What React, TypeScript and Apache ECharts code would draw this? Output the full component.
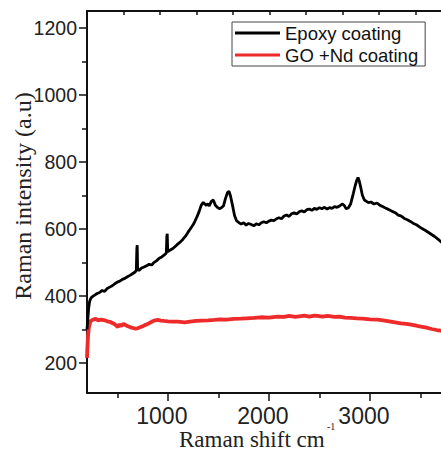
import React, { useEffect, useRef } from "react";
import * as echarts from "echarts";

const epoxyShift = [
  200, 208, 216, 226, 240, 260, 280, 300, 325, 350, 375, 400, 425, 450, 475, 500,
  525, 550, 575, 600, 625, 650, 675, 688, 693, 697, 701, 715, 740, 765, 790, 815,
  840, 865, 890, 915, 940, 965, 985, 990, 994, 999, 1020, 1050, 1075, 1100, 1125,
  1150, 1175, 1200, 1225, 1250, 1270, 1290, 1310, 1330, 1350, 1365, 1380, 1395,
  1410, 1430, 1450, 1470, 1490, 1510, 1530, 1550, 1570, 1590, 1605, 1620, 1640,
  1660, 1680, 1700, 1725, 1750, 1775, 1800, 1825, 1850, 1875, 1900, 1925, 1950,
  1975, 2000, 2025, 2050, 2075, 2100, 2125, 2150, 2175, 2200, 2225, 2250, 2275,
  2300, 2325, 2350, 2375, 2400, 2425, 2450, 2475, 2500, 2525, 2550, 2575, 2600,
  2625, 2650, 2675, 2700, 2725, 2745, 2765, 2785, 2810, 2835, 2855, 2870, 2882,
  2895, 2910, 2925, 2945, 2965, 2985, 3010, 3040, 3070, 3100, 3130, 3160, 3190,
  3220, 3250, 3280, 3310, 3340, 3370, 3400, 3430, 3460, 3490, 3520, 3550, 3580,
  3610, 3640, 3670, 3700, 3730, 3760, 3790, 3820, 3850, 3880, 3900,
];
const epoxyIntensity = [
  300, 330, 362, 384, 394, 399, 403, 407, 410, 416, 413, 422, 426, 430, 436, 441,
  444, 449, 452, 457, 461, 466, 471, 476, 540, 551, 478, 476, 483, 486, 490, 494,
  492, 500, 505, 512, 516, 522, 528, 578, 585, 532, 536, 541, 548, 555, 561,
  569, 578, 590, 601, 612, 624, 637, 652, 670, 679, 674, 670, 675,
  668, 682, 686, 670, 664, 660, 663, 668, 690, 708, 712, 698, 670,
  640, 624, 619, 614, 618, 611, 616, 613, 609, 615, 612, 618, 621,
  618, 623, 626, 624, 630, 633, 630, 638, 641, 637, 645, 648, 644,
  651, 654, 650, 657, 659, 655, 661, 658, 663, 660, 664, 659, 663,
  661, 666, 664, 668, 674, 670, 660, 662, 675, 705, 730, 745, 753,
  742, 722, 700, 686, 682, 678, 680, 674, 677, 670, 666, 661, 657,
  652, 648, 641, 638, 631, 627, 622, 616, 612, 606, 600, 595, 589,
  583, 577, 570, 562, 556, 549, 543, 537, 530, 524, 520,
];

const goShift = [
  200, 204, 210, 218, 228, 240, 260, 285, 310, 340, 376, 400, 430, 455, 475, 490,
  505, 520, 540, 560, 580, 605, 630, 655, 680, 700, 725, 750, 775, 800, 825, 850,
  875, 900, 930, 960, 1000, 1050, 1100, 1168, 1220, 1280, 1334, 1400, 1460, 1520,
  1580, 1653, 1720, 1780, 1850, 1920, 2000, 2086, 2150, 2200, 2260, 2300, 2350,
  2400, 2450, 2482, 2530, 2580, 2650, 2700, 2750, 2812, 2870, 2930, 3000, 3076,
  3130, 3190, 3250, 3307, 3360, 3420, 3470, 3505, 3560, 3610, 3660, 3703, 3760,
  3820, 3900,
];
const goIntensity = [
  215, 245, 280, 305, 318, 326, 329, 331, 327, 329, 327, 324, 322, 318, 315, 311,
  307, 314, 310, 316, 313, 309, 306, 304, 302, 303, 306, 309, 313, 316, 320, 324,
  327, 328, 326, 325, 324, 323, 323, 321, 323, 325, 326, 327, 328, 330,
  329, 331, 332, 333, 334, 336, 335, 338, 337, 340, 337, 339, 341,
  338, 341, 340, 338, 340, 337, 338, 335, 334, 333, 332, 330, 329,
  327, 324, 321, 318, 316, 313, 310, 308, 305, 301, 298, 296, 292,
  288, 283,
];

const xTickLabels = [1000, 2000, 3000];
const xMajorTicks = [1000, 2000, 3000, 4000];
const xMinorTicks = [500, 1500, 2500, 3500];
const yTickLabels = [200, 400, 600, 800, 1000, 1200];
const yMinorTicks = [300, 500, 700, 900, 1100];
const seriesNames = ["Epoxy coating", "GO +Nd coating"];

export default function App() {
  const ref = useRef<HTMLDivElement>(null);
  useEffect(() => {
    const chart = echarts.init(ref.current!, null, { renderer: "svg" });
    const sans = "'Liberation Sans', Arial, sans-serif";
    const serif = "'Liberation Serif', 'Times New Roman', serif";
    const axisColor = "#111";
    const plain = (v: number) => String(v);
    chart.setOption({
      animation: false,
      backgroundColor: "#ffffff",
      grid: { left: 87, right: 9, top: 11, bottom: 59, containLabel: false, outerBoundsMode: "none" },
      xAxis: [
        {
          type: "value",
          min: 200,
          max: 4000,
          position: "bottom",
          axisLine: { show: true, onZero: false, lineStyle: { color: axisColor, width: 2 } },
          axisTick: { show: true, customValues: xMajorTicks, length: 8, lineStyle: { color: axisColor, width: 1.5 } },
          axisLabel: {
            customValues: xTickLabels,
            formatter: plain,
            fontSize: 23,
            fontFamily: sans,
            color: "#222",
            margin: 11,
            padding: [0, 12, 0, 0],
          },
          splitLine: { show: false },
        },
        {
          type: "value",
          min: 200,
          max: 4000,
          position: "bottom",
          axisLine: { show: false, onZero: false },
          axisTick: { show: true, customValues: xMinorTicks, length: 5, lineStyle: { color: axisColor, width: 1.5 } },
          axisLabel: { show: false },
          splitLine: { show: false },
        },
        {
          type: "value",
          min: 0,
          max: 10.52,
          interval: 1,
          position: "top",
          axisLine: { show: true, onZero: false, lineStyle: { color: axisColor, width: 2 } },
          axisTick: { show: true, inside: true, length: 4, lineStyle: { color: axisColor, width: 1.5 } },
          axisLabel: { show: false },
          splitLine: { show: false },
        },
      ],
      yAxis: [
        {
          type: "value",
          min: 110,
          max: 1250,
          position: "left",
          axisLine: { show: true, onZero: false, lineStyle: { color: axisColor, width: 2 } },
          axisTick: { show: true, customValues: yTickLabels, length: 8, lineStyle: { color: axisColor, width: 1.5 } },
          axisLabel: { customValues: yTickLabels, formatter: plain, fontSize: 19.5, fontFamily: sans, color: "#222", margin: 10 },
          splitLine: { show: false },
        },
        {
          type: "value",
          min: 110,
          max: 1250,
          position: "left",
          axisLine: { show: false, onZero: false },
          axisTick: { show: true, customValues: yMinorTicks, length: 5, lineStyle: { color: axisColor, width: 1.5 } },
          axisLabel: { show: false },
          splitLine: { show: false },
        },
      ],
      legend: {
        data: [
          { name: seriesNames[0], icon: "rect" },
          { name: seriesNames[1], icon: "rect" },
        ],
        orient: "vertical",
        left: 232,
        top: 22,
        padding: [1, 7, 1, 3],
        itemGap: 2,
        itemWidth: 45,
        itemHeight: 3,
        borderColor: "#444",
        borderWidth: 1,
        textStyle: { fontSize: 18.5, fontFamily: sans, color: "#111", lineHeight: 20 },
      },
      graphic: [
        {
          type: "text",
          x: 179,
          y: 439.5,
          style: {
            text: "Raman shift cm",
            font: `23px ${serif}`,
            lineHeight: 20,
            fill: "#222",
            align: "left",
            verticalAlign: "middle",
          },
        },
        {
          type: "text",
          x: 327,
          y: 426.5,
          style: { text: "-1", font: `10px ${serif}`, fill: "#222", align: "left", verticalAlign: "middle" },
        },
        {
          type: "text",
          x: 23,
          y: 196,
          rotation: Math.PI / 2,
          style: {
            text: "Raman intensity (a.u)",
            font: `24px ${serif}`,
            fill: "#222",
            align: "center",
            verticalAlign: "middle",
          },
        },
      ],
      series: [
        {
          type: "line",
          name: seriesNames[0],
          xAxisIndex: 0,
          yAxisIndex: 0,
          data: epoxyShift.map((x, i) => [x, epoxyIntensity[i]]),
          symbol: "none",
          showSymbol: false,
          lineStyle: { color: "#000000", width: 2.8 },
          itemStyle: { color: "#000000" },
          z: 3,
        },
        {
          type: "line",
          name: seriesNames[1],
          xAxisIndex: 0,
          yAxisIndex: 0,
          data: goShift.map((x, i) => [x, goIntensity[i]]),
          symbol: "none",
          showSymbol: false,
          lineStyle: { color: "#ee2a2a", width: 3.8 },
          itemStyle: { color: "#ee2a2a" },
          z: 2,
        },
      ],
    });
    return () => chart.dispose();
  }, []);
  return (
    <div style={{ position: "fixed", left: 0, top: 0, width: 441, height: 452, overflow: "hidden", background: "#fff" }}>
      <div ref={ref} style={{ width: 480, height: 452 }} />
    </div>
  );
}
